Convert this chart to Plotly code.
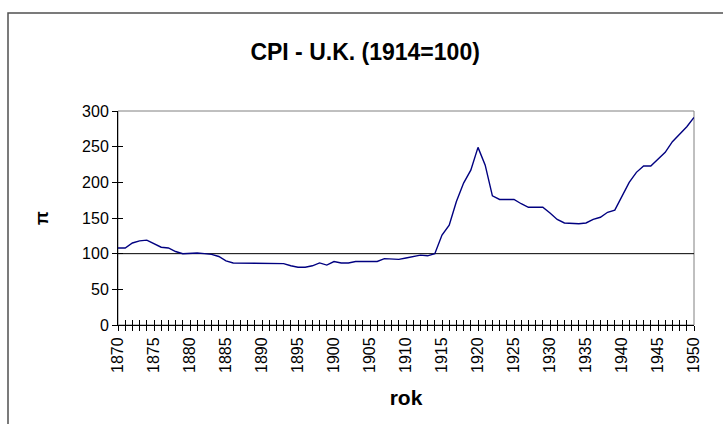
import plotly.graph_objects as go

# CPI U.K., 1914 = 100
years = list(range(1870, 1951))
cpi = [108, 108, 115, 118, 119, 114, 109, 108, 103, 100,
       101, 101, 100, 99, 96, 90, 87, 87, 87, 87,
       87, 87, 87, 86, 83, 81, 81, 83, 87, 84,
       89, 87, 87, 89, 89, 89, 89, 93, 93, 92,
       94, 96, 98, 97, 100, 126, 140, 173, 199, 217,
       249, 224, 181, 176, 176, 176, 170, 165, 165, 165,
       157, 148, 143, 142, 142, 143, 148, 151, 158, 161,
       180, 200, 214, 223, 223, 233, 242, 257, 267, 278,
       291]
ref_level = 100
x_labels = [str(y) for y in range(1870, 1951, 5)]

W, H = 723, 424
L, R, T, B = 118, 29, 111, 99
pw, ph = W - L - R, H - T - B

def px(x):  # pixel -> paper x
    return (x - L) / pw

def py(y):  # pixel -> paper y
    return (H - B - y) / ph

fig = go.Figure()
fig.add_trace(go.Scatter(x=[years[0], years[-1]], y=[ref_level, ref_level],
                         mode="lines", line=dict(color="black", width=1),
                         hoverinfo="skip", showlegend=False))
fig.add_trace(go.Scatter(x=years, y=cpi, mode="lines",
                         line=dict(color="#000080", width=1.4),
                         showlegend=False))
# dummy trace so the overlay axes (inner half of the crossing ticks) get drawn
fig.add_trace(go.Scatter(x=[years[0]], y=[0], xaxis="x2", yaxis="y2", mode="markers",
                         marker=dict(opacity=0), hoverinfo="skip", showlegend=False))

font = "Arial, Liberation Sans, sans-serif"

fig.update_layout(
    width=W, height=H,
    margin=dict(l=L, r=R, t=T, b=B),
    paper_bgcolor="white", plot_bgcolor="white",
    font=dict(family=font, size=16, color="black"),
    title=dict(text="<b>CPI - U.K. (1914=100)</b>", x=0.505, xanchor="center",
               y=1 - 52 / H, yanchor="middle", font=dict(size=23)),
    xaxis=dict(range=[1870, 1950], tickmode="array",
               tickvals=[int(v) for v in x_labels], ticktext=x_labels,
               tickangle=-90, ticks="outside", ticklen=5, tickcolor="black",
               minor=dict(dtick=1, ticks="outside", ticklen=5, tickcolor="black"),
               showline=True, linecolor="black", linewidth=1,
               showgrid=False, zeroline=False, automargin=False,
               title=dict(text="<b>rok</b>", font=dict(size=21), standoff=18)),
    xaxis2=dict(range=[1870, 1950], overlaying="x", anchor="y", side="bottom",
                dtick=1, tick0=1870, ticks="inside", ticklen=5, tickcolor="black",
                showticklabels=False, showgrid=False, zeroline=False, showline=False),
    yaxis=dict(range=[0, 300], dtick=50, ticks="outside", ticklen=5,
               tickcolor="black", showline=True, linecolor="black", linewidth=1,
               showgrid=False, zeroline=False, automargin=False,
               title=dict(text="<b>π</b>", font=dict(size=18), standoff=28)),
    yaxis2=dict(range=[0, 300], overlaying="y", anchor="x", side="left",
                dtick=50, ticks="inside", ticklen=5, tickcolor="black",
                showticklabels=False, showgrid=False, zeroline=False, showline=False),
    shapes=[
        # plot area border (grey top/right)
        dict(type="rect", xref="paper", yref="paper", x0=0, x1=1, y0=0, y1=1,
             line=dict(color="#808080", width=1), layer="below"),
        # outer chart frame
        dict(type="rect", xref="paper", yref="paper",
             x0=px(8), x1=px(W + 10), y0=py(H + 10), y1=py(13),
             line=dict(color="#505050", width=1.5), layer="below"),
    ],
)

fig.write_html("out.html", config={"displayModeBar": False},
               post_script="document.body.style.margin='0';")
